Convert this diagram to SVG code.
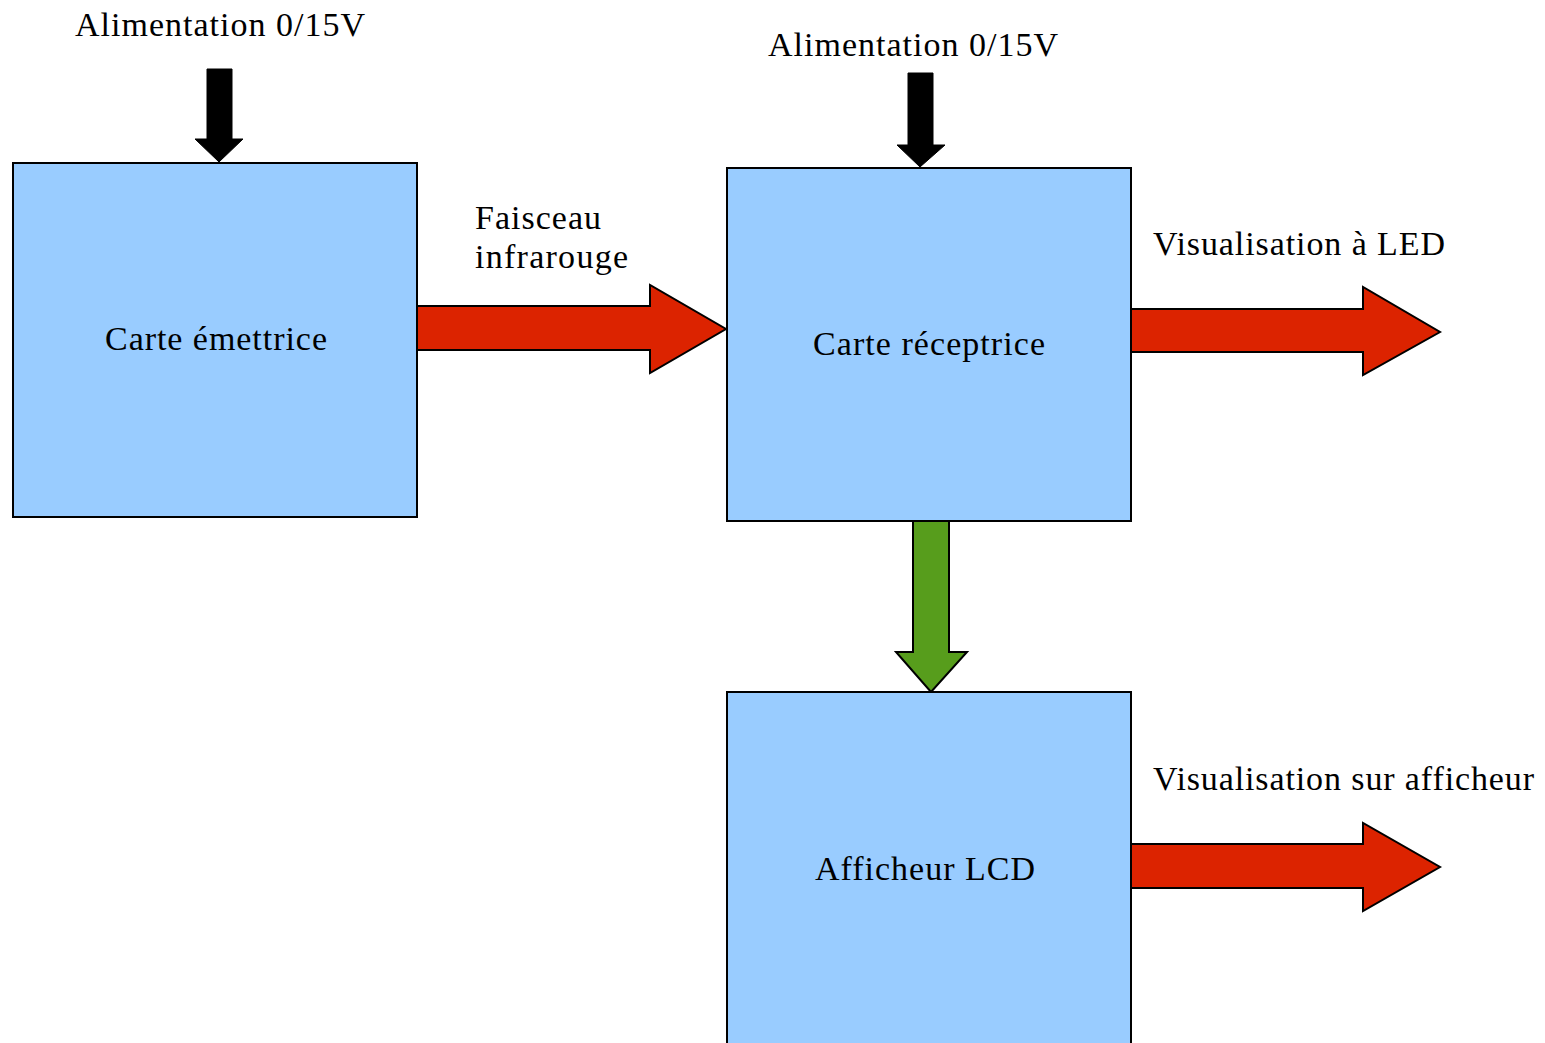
<svg xmlns="http://www.w3.org/2000/svg" width="1545" height="1043" viewBox="0 0 1545 1043">
<style>
.box{fill:#99ccff;stroke:#000;stroke-width:2}
.red{fill:#dc2300;stroke:#000;stroke-width:2;stroke-linejoin:miter}
.green{fill:#579d1c;stroke:#000;stroke-width:2}
.black{fill:#000;stroke:#000;stroke-width:1}
text{font-family:"Liberation Serif","Times New Roman",serif;font-size:34px;fill:#000}
</style>
<rect width="1545" height="1043" fill="#fff"/>
<g id="connectors">
<polygon class="black" points="207,69 232,69 232,139 243,139 219,162 195,139 207,139"/>
<polygon class="black" points="908,73 933,73 933,145 945,145 920,167 897,145 908,145"/>
<polygon class="red" points="417,306 650,306 650,285 726,329 650,373 650,350 417,350"/>
<polygon class="red" points="1131,309 1363,309 1363,287 1440,332 1363,375 1363,352 1131,352"/>
<polygon class="red" points="1131,844 1363,844 1363,823 1440,867 1363,911 1363,888 1131,888"/>
<polygon class="green" points="913,521 949,521 949,652 967,652 931,692 896,652 913,652"/>
</g>
<g id="label-alim1"><text x="75" y="36" textLength="290" lengthAdjust="spacing">Alimentation 0/15V</text></g>
<g id="label-alim2"><text x="768" y="56" textLength="290" lengthAdjust="spacing">Alimentation 0/15V</text></g>
<g id="label-faisceau"><text x="475" y="229" textLength="126" lengthAdjust="spacing">Faisceau</text><text x="475" y="268" textLength="153" lengthAdjust="spacing">infrarouge</text></g>
<g id="label-led"><text x="1153" y="255" textLength="292" lengthAdjust="spacing">Visualisation à LED</text></g>
<g id="label-afficheur"><text x="1153" y="790" textLength="381" lengthAdjust="spacing">Visualisation sur afficheur</text></g>
<g id="node-emettrice"><rect class="box" x="13" y="163" width="404" height="354"/><text x="105" y="350" textLength="222" lengthAdjust="spacing">Carte émettrice</text></g>
<g id="node-receptrice"><rect class="box" x="727" y="168" width="404" height="353"/><text x="813" y="355" textLength="232" lengthAdjust="spacing">Carte réceptrice</text></g>
<g id="node-lcd"><rect class="box" x="727" y="692" width="404" height="360"/><text x="815" y="880" textLength="220" lengthAdjust="spacing">Afficheur LCD</text></g>
</svg>
